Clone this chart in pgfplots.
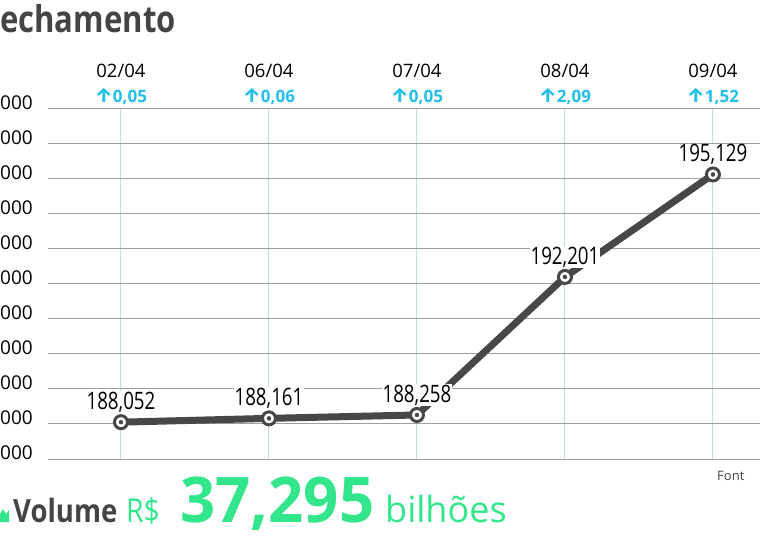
\documentclass[border=0pt]{standalone}
\usepackage{pgfplots}
\usepackage{pgfplotstable}
\pgfplotsset{compat=1.18}
\usepackage{fontspec}
\setmainfont{Open Sans}
\newfontfamily\condensed[FakeStretch=0.78]{Open Sans}
\newfontfamily\titlefont[FakeStretch=0.84]{Open Sans}
\newfontfamily\volfont[FakeStretch=0.86]{Open Sans}
\newfontfamily\bigfont[FakeStretch=0.98]{Open Sans}
\newfontfamily\arrowfont{Fira Sans}
\definecolor{linegray}{HTML}{474747}
\definecolor{titlegray}{HTML}{444444}
\definecolor{cyanA}{HTML}{22BFEB}
\definecolor{greenA}{HTML}{33E68C}
\definecolor{gridgray}{HTML}{A0A0A0}
\definecolor{vgrid}{HTML}{C4DEDE}

\pgfplotstableread{
x y label
0 188052 188,052
1 188161 188,161
2 188258 188,258
3 192201 192,201
4 195129 195,129
}\datatable

\newcommand{\up}[1]{\textcolor{cyanA}{{\arrowfont\bfseries\fontsize{20}{17}\selectfont ↑}{\bfseries\fontsize{17}{17}\selectfont #1}}}

\begin{document}
\begin{tikzpicture}[x=1pt,y=1pt]
\useasboundingbox (0,0) rectangle (760,541);
\begin{axis}[
  at={(48pt,82pt)}, anchor=south west,
  scale only axis, width=712pt, height=350pt,
  xmin=-0.493, xmax=4.318, ymin=187000, ymax=197000,
  xtick={0,1,2,3,4},
  xticklabels={
    {02/04\\\up{0,05}},
    {06/04\\\up{0,06}},
    {07/04\\\up{0,05}},
    {08/04\\\up{2,09}},
    {09/04\\\up{1,52}}},
  xticklabel pos=upper,
  xticklabel style={align=center, anchor=south, inner sep=0pt, yshift=4pt,
    font=\fontsize{18.5}{25}\selectfont, text=black},
  ytick={187000,188000,189000,190000,191000,192000,193000,194000,195000,196000,197000},
  yticklabels={000,000,000,000,000,000,000,000,000,000,000},
  yticklabel style={anchor=east, inner sep=0pt, xshift=-15pt, yshift=6pt,
    font=\fontsize{19}{19}\selectfont, text=black},
  axis line style={draw=none},
  major tick length=0pt,
  xmajorgrids, ymajorgrids,
  major x grid style={vgrid, line width=1pt},
  major y grid style={gridgray, line width=1pt},
  clip=false,
  scaled y ticks=false,
]
\addplot[linegray, line width=7pt, mark=*, mark size=6.5pt,
  mark options={fill=white, draw=linegray, line width=3pt},
  point meta=explicit symbolic,
  nodes near coords,
  nodes near coords style={font=\condensed\fontsize{24}{24}\selectfont, text=black,
    fill=white, inner sep=1pt, anchor=south, yshift=7pt}]
  table[x=x, y=y, meta=label] {\datatable};
\addplot[only marks, mark=*, mark size=2pt, linegray] table[x=x, y=y] {\datatable};
\end{axis}
% title (cropped in reference)
\node[anchor=base west, inner sep=0pt, text=titlegray] at (0,508)
  {\titlefont\bfseries\fontsize{37}{37}\selectfont echamento};
% source (cropped)
\node[anchor=base west, inner sep=0pt, text=titlegray] at (717,61)
  {\fontsize{13}{13}\selectfont Font};
% volume line
\fill[greenA] (0,19) -- (9,19) -- (9,31) -- (6,27) -- (3,32) -- (0,27) -- cycle;
\node[anchor=base west, inner sep=0pt, text=titlegray] at (13,19)
  {\volfont\bfseries\fontsize{32}{32}\selectfont Volume};
\node[anchor=base west, inner sep=0pt, text=greenA] at (126,19)
  {\volfont\fontsize{33}{33}\selectfont R\$};
\node[anchor=base west, inner sep=0pt, text=greenA] at (180,19)
  {\bigfont\bfseries\fontsize{63}{63}\selectfont 37,295};
\node[anchor=base west, inner sep=0pt, text=greenA] at (385,19)
  {\fontsize{36}{36}\selectfont bilhões};
\end{tikzpicture}
\end{document}
